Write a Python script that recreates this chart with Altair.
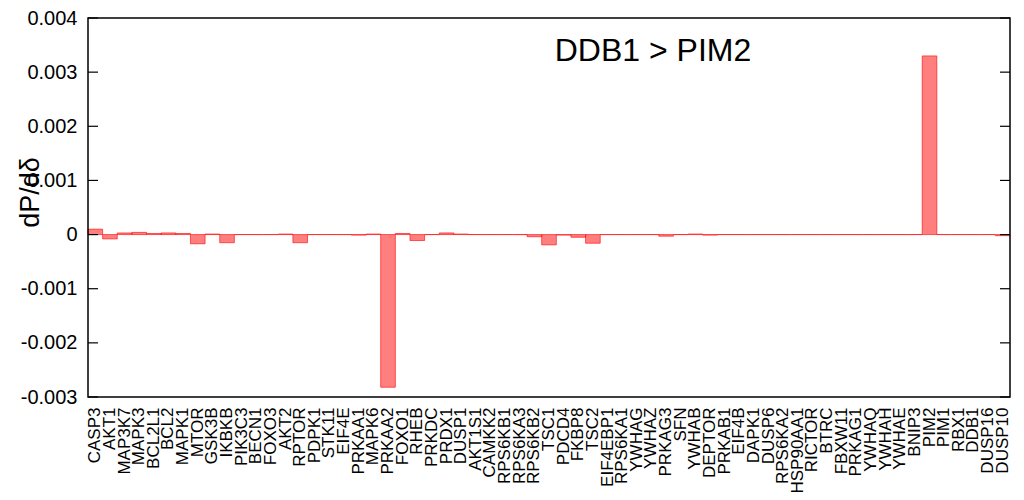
import altair as alt
import pandas as pd

genes = ["CASP3", "AKT1", "MAP3K7", "MAPK3", "BCL2L1", "BCL2", "MAPK1", "MTOR", "GSK3B", "IKBKB",
         "PIK3C3", "BECN1", "FOXO3", "AKT2", "RPTOR", "PDPK1", "STK11", "EIF4E", "PRKAA1", "MAPK6",
         "PRKAA2", "FOXO1", "RHEB", "PRKDC", "PRDX1", "DUSP1", "AKT1S1", "CAMKK2", "RPS6KB1", "RPS6KA3",
         "RPS6KB2", "TSC1", "PDCD4", "FKBP8", "TSC2", "EIF4EBP1", "RPS6KA1", "YWHAG", "YWHAZ", "PRKAG3",
         "SFN", "YWHAB", "DEPTOR", "PRKAB1", "EIF4B", "DAPK1", "DUSP6", "RPS6KA2", "HSP90AA1", "RICTOR",
         "BTRC", "FBXW11", "PRKAG1", "YWHAQ", "YWHAH", "YWHAE", "BNIP3", "PIM2", "PIM1", "RBX1",
         "DDB1", "DUSP16", "DUSP10"]

values = [0.0001, -0.00008, 0.00003, 0.00004, 0.00002, 0.00003, 0.00002, -0.00017, 0.00001, -0.00015,
          0.0, 0.0, 0.0, 0.00001, -0.00015, 0.0, 0.0, 0.0, -0.00001, 0.00001,
          -0.00282, 0.00002, -0.00011, 0.0, 0.00003, 0.00001, 0.0, 0.0, 0.0, 0.0,
          -0.00004, -0.00019, -0.00001, -0.00005, -0.00016, 0.0, 0.0, 0.0, 0.0, -0.00003,
          0.0, 0.00001, -0.00001, 0.0, 0.0, 0.0, 0.0, 0.0, 0.0, 0.0,
          0.0, 0.0, 0.0, 0.0, 0.0, 0.0, 0.0, 0.0033, 0.0, 0.0,
          0.0, 0.0, -0.00002]

y_ticks = [-0.003, -0.002, -0.001, 0.0, 0.001, 0.002, 0.003, 0.004]

df = pd.DataFrame({"gene": genes, "value": values})
ticks_df = pd.DataFrame({"t": y_ticks})

FONT = "Liberation Sans"
W, H = 922, 379

yscale = alt.Scale(domain=[-0.003, 0.004], nice=False, zero=False)

bars = alt.Chart(df).mark_bar(
    fill="#ff0000", fillOpacity=0.5, stroke="#ff0000", strokeOpacity=0.6, strokeWidth=1
).encode(
    x=alt.X("gene:N", sort=genes,
            scale=alt.Scale(paddingInner=0, paddingOuter=0),
            axis=alt.Axis(title=None, labelAngle=270, labelFontSize=17, labelFont=FONT,
                          labelColor="black", ticks=False, domain=False, labelPadding=10,
                          labelOverlap=False, labelLimit=200)),
    y=alt.Y("value:Q", scale=yscale,
            axis=alt.Axis(values=y_ticks, title="dP/dδ", titleFontSize=27, titleFont=FONT,
                          titleFontWeight="normal", titleColor="black", titleAngle=270,
                          titleBaseline="middle", titleAlign="center", titleX=-58, titleY=174,
                          labelFontSize=20, labelFont=FONT, labelColor="black",
                          labelPadding=11, ticks=False, domain=False, grid=False,
                          labelExpr="datum.value == 0 ? '0' : replace(format(datum.value, '.3f'), '\u2212', '-')")),
    y2=alt.datum(0),
)

ticks_left = alt.Chart(ticks_df).mark_rule(color="black", strokeWidth=1.2).encode(
    y=alt.Y("t:Q", scale=yscale),
    x=alt.value(0), x2=alt.value(10),
)
ticks_right = alt.Chart(ticks_df).mark_rule(color="black", strokeWidth=1.2).encode(
    y=alt.Y("t:Q", scale=yscale),
    x=alt.value(W - 10), x2=alt.value(W),
)

frame = alt.Chart(pd.DataFrame({"k": [0]})).mark_rect(
    fill=None, stroke="black", strokeWidth=1.5
).encode(
    x=alt.value(0), x2=alt.value(W), y=alt.value(0), y2=alt.value(H)
)

label = alt.Chart(pd.DataFrame({"txt": ["DDB1 > PIM2"]})).mark_text(
    fontSize=32, font=FONT, color="black", align="center", baseline="middle"
).encode(
    text="txt:N", x=alt.value(565), y=alt.value(33)
)

chart = alt.layer(bars, ticks_left, ticks_right, frame, label).properties(
    width=W, height=H,
    autosize=alt.AutoSizeParams(type="none"),
    padding={"left": 80, "top": 10, "right": 6, "bottom": 95},
    background="white",
).configure_view(stroke=None)

chart.save("out.html", embed_options={"renderer": "svg", "actions": False})
